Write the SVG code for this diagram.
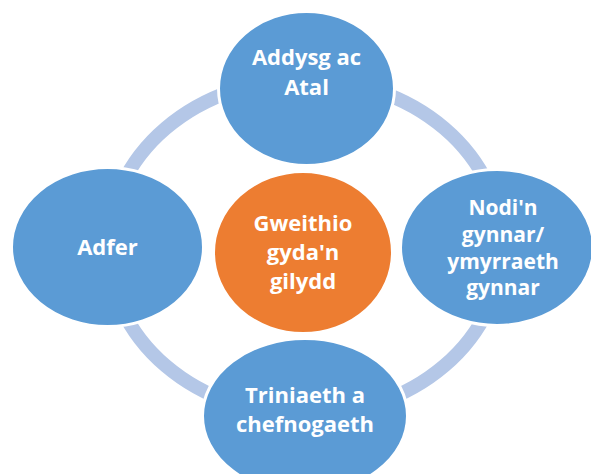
<svg xmlns="http://www.w3.org/2000/svg" width="591" height="474" viewBox="0 0 591 474">
<style>
.node{fill:#5B9BD5;stroke:#FFFFFF;stroke-width:3}
.hub{fill:#ED7D31;stroke:#FFFFFF;stroke-width:3}
.lbl{font-family:"Open Sans","Noto Sans","Liberation Sans",sans-serif;font-weight:700;font-size:22px;fill:#FFFFFF;text-anchor:middle}
.sm{font-size:21px}
.ring{fill:none;stroke:#B4C7E7;stroke-width:14}
</style>
<rect width="591" height="474" fill="#FFFFFF"/>
<g id="connectors">
<ellipse class="ring" cx="305" cy="247" rx="197" ry="168"/>
</g>
<g id="node-top">
<ellipse class="node" cx="306.5" cy="88.5" rx="88" ry="77"/>
<text class="lbl" x="306.5" y="65">Addysg ac</text>
<text class="lbl" x="306.5" y="94.5">Atal</text>
</g>
<g id="node-right">
<ellipse class="node" cx="497" cy="247.5" rx="96.5" ry="78"/>
<text class="lbl sm" x="503" y="215">Nodi'n</text>
<text class="lbl sm" x="503" y="242">gynnar/</text>
<text class="lbl sm" x="503" y="268.5">ymyrraeth</text>
<text class="lbl sm" x="503" y="295">gynnar</text>
</g>
<g id="node-bottom">
<ellipse class="node" cx="305" cy="416" rx="102.5" ry="77.5"/>
<text class="lbl" x="305" y="403">Triniaeth a</text>
<text class="lbl" x="305" y="432">chefnogaeth</text>
</g>
<g id="node-left">
<ellipse class="node" cx="107.5" cy="247" rx="96" ry="79.5"/>
<text class="lbl" x="107.5" y="255">Adfer</text>
</g>
<g id="node-center">
<ellipse class="hub" cx="303" cy="252.5" rx="89.5" ry="81"/>
<text class="lbl" x="303" y="231">Gweithio</text>
<text class="lbl" x="303" y="260">gyda'n</text>
<text class="lbl" x="303" y="289">gilydd</text>
</g>
</svg>
